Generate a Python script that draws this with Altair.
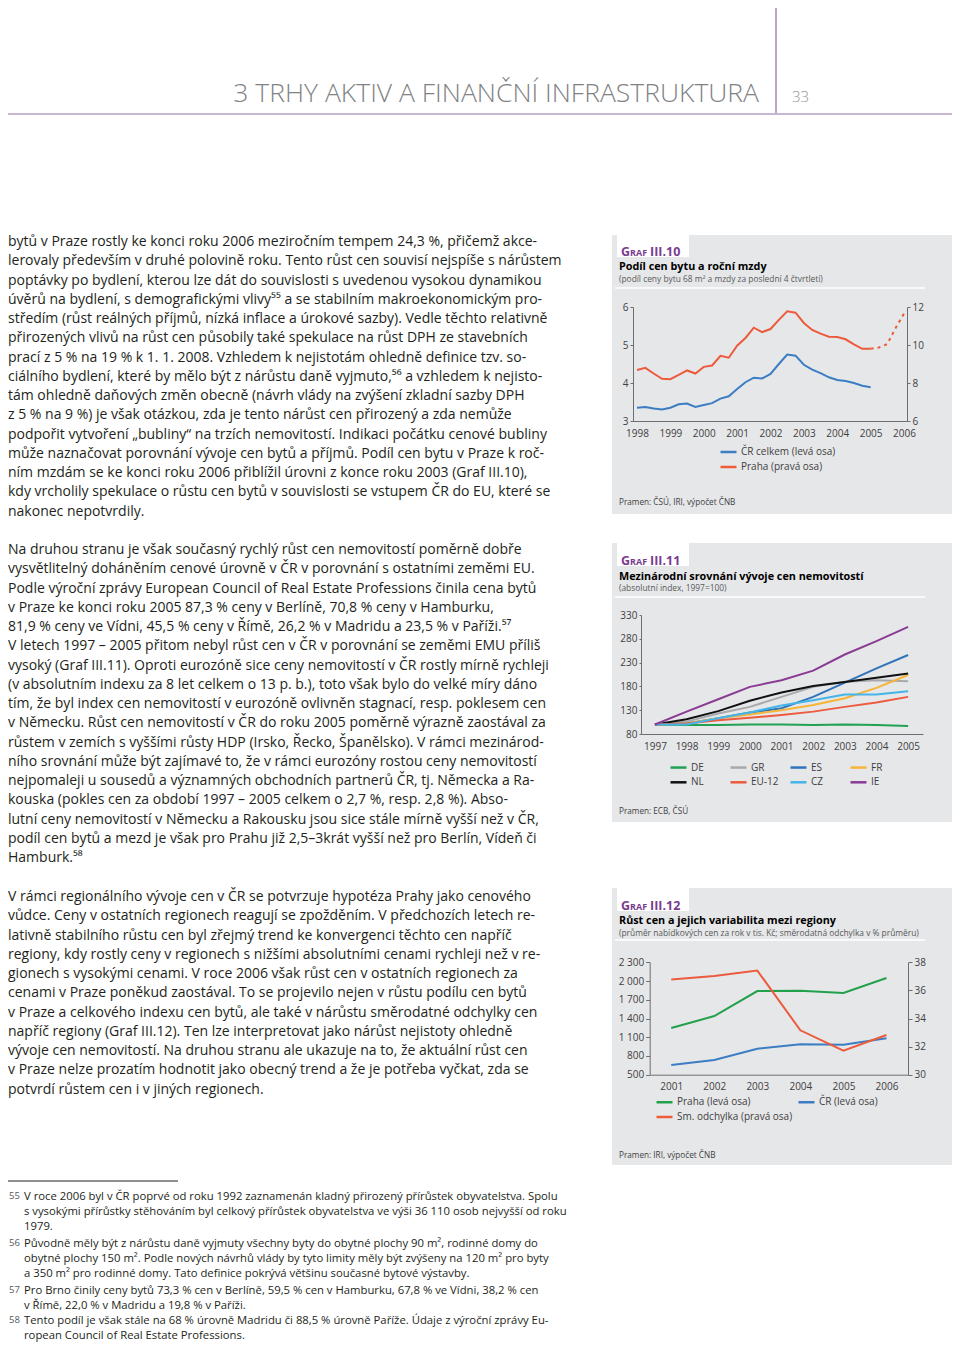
import altair as alt
import pandas as pd

# ======================= DATA =======================
# Graf III.10 - quarterly, 1998Q1 .. 2005Q1
quarters = [1998.0, 1998.25, 1998.5, 1998.75, 1999.0, 1999.25, 1999.5, 1999.75,
            2000.0, 2000.25, 2000.5, 2000.75, 2001.0, 2001.25, 2001.5, 2001.75,
            2002.0, 2002.25, 2002.5, 2002.75, 2003.0, 2003.25, 2003.5, 2003.75,
            2004.0, 2004.25, 2004.5, 2004.75, 2005.0]
cr_celkem = [3.35, 3.37, 3.33, 3.30, 3.35, 3.44, 3.46, 3.37, 3.42, 3.47, 3.59, 3.65,
             3.84, 4.02, 4.14, 4.12, 4.24, 4.50, 4.75, 4.72, 4.48, 4.35, 4.26, 4.15,
             4.08, 4.05, 4.00, 3.93, 3.89]
praha_podil = [8.68, 8.80, 8.50, 8.22, 8.20, 8.43, 8.66, 8.50, 8.85, 8.92, 9.43, 9.33,
               9.96, 10.37, 10.91, 10.68, 10.84, 11.32, 11.77, 11.70, 11.16, 10.79, 10.60, 10.44,
               10.42, 10.30, 10.03, 9.80, 9.80]
quarters_est = [2005.0, 2005.25, 2005.5, 2005.75, 2006.0]
praha_podil_est = [9.80, 9.87, 10.05, 10.90, 11.65]
years10 = [1998, 1999, 2000, 2001, 2002, 2003, 2004, 2005, 2006]
series10 = ["ČR celkem (levá osa)", "Praha (pravá osa)"]

# Graf III.11 - index 1997 = 100
years11 = [1997, 1998, 1999, 2000, 2001, 2002, 2003, 2004, 2005]
countries11 = ["DE", "GR", "ES", "FR", "NL", "EU-12", "CZ", "IE"]
idx_de = [100, 99, 99, 100, 100, 99, 100, 99, 97]
idx_gr = [100, 106, 123, 137, 158, 179, 190, 193, 191]
idx_es = [100, 102, 113, 125, 134, 158, 188, 218, 246]
idx_fr = [100, 102, 113, 121, 130, 141, 155, 177, 204]
idx_nl = [100, 111, 128, 150, 167, 181, 189, 198, 207]
idx_eu = [100, 102, 109, 114, 120, 127, 137, 146, 158]
idx_cz = [100, 100, 113, 125, 140, 151, 163, 163, 170]
idx_ie = [100, 127, 153, 179, 193, 213, 247, 275, 305]
# legend is filled column by column, so this order gives rows DE GR ES FR / NL EU-12 CZ IE
legend_order11 = ["DE", "NL", "GR", "EU-12", "ES", "CZ", "FR", "IE"]

# Graf III.12
years12 = [2001, 2002, 2003, 2004, 2005, 2006]
praha_cena = [1247, 1439, 1840, 1845, 1808, 2048]
cr_cena = [655, 735, 916, 986, 980, 1082]
sm_odchylka = [36.77, 37.03, 37.41, 33.16, 31.71, 32.83]
series12 = ["Praha (levá osa)", "ČR (levá osa)", "Sm. odchylka (pravá osa)"]
legend_order12 = ["Praha (levá osa)", "Sm. odchylka (pravá osa)", "ČR (levá osa)"]

# ======================= TEXT =======================
header_title = "3 TRHY AKTIV A FINANČNÍ INFRASTRUKTURA"
page_number = "33"

para1 = [
    "bytů v Praze rostly ke konci roku 2006 meziročním tempem 24,3 %, přičemž akce-",
    "lerovaly především v druhé polovině roku. Tento růst cen souvisí nejspíše s nárůstem",
    "poptávky po bydlení, kterou lze dát do souvislosti s uvedenou vysokou dynamikou",
    "úvěrů na bydlení, s demografickými vlivy⁵⁵ a se stabilním makroekonomickým pro-",
    "středím (růst reálných příjmů, nízká inflace a úrokové sazby). Vedle těchto relativně",
    "přirozených vlivů na růst cen působily také spekulace na růst DPH ze stavebních",
    "prací z 5 % na 19 % k 1. 1. 2008. Vzhledem k nejistotám ohledně definice tzv. so-",
    "ciálního bydlení, které by mělo být z nárůstu daně vyjmuto,⁵⁶ a vzhledem k nejisto-",
    "tám ohledně daňových změn obecně (návrh vlády na zvýšení zkladní sazby DPH",
    "z 5 % na 9 %) je však otázkou, zda je tento nárůst cen přirozený a zda nemůže",
    "podpořit vytvoření „bubliny“ na trzích nemovitostí. Indikaci počátku cenové bubliny",
    "může naznačovat porovnání vývoje cen bytů a příjmů. Podíl cen bytu v Praze k roč-",
    "ním mzdám se ke konci roku 2006 přiblížil úrovni z konce roku 2003 (Graf III.10),",
    "kdy vrcholily spekulace o růstu cen bytů v souvislosti se vstupem ČR do EU, které se",
    "nakonec nepotvrdily.",
]
para2 = [
    "Na druhou stranu je však současný rychlý růst cen nemovitostí poměrně dobře",
    "vysvětlitelný doháněním cenové úrovně v ČR v porovnání s ostatními zeměmi EU.",
    "Podle výroční zprávy European Council of Real Estate Professions činila cena bytů",
    "v Praze ke konci roku 2005 87,3 % ceny v Berlíně, 70,8 % ceny v Hamburku,",
    "81,9 % ceny ve Vídni, 45,5 % ceny v Římě, 26,2 % v Madridu a 23,5 % v Paříži.⁵⁷",
    "V letech 1997 – 2005 přitom nebyl růst cen v ČR v porovnání se zeměmi EMU příliš",
    "vysoký (Graf III.11). Oproti eurozóně sice ceny nemovitostí v ČR rostly mírně rychleji",
    "(v absolutním indexu za 8 let celkem o 13 p. b.), toto však bylo do velké míry dáno",
    "tím, že byl index cen nemovitostí v eurozóně ovlivněn stagnací, resp. poklesem cen",
    "v Německu. Růst cen nemovitostí v ČR do roku 2005 poměrně výrazně zaostával za",
    "růstem v zemích s vyššími růsty HDP (Irsko, Řecko, Španělsko). V rámci mezinárod-",
    "ního srovnání může být zajímavé to, že v rámci eurozóny rostou ceny nemovitostí",
    "nejpomaleji u sousedů a významných obchodních partnerů ČR, tj. Německa a Ra-",
    "kouska (pokles cen za období 1997 – 2005 celkem o 2,7 %, resp. 2,8 %). Abso-",
    "lutní ceny nemovitostí v Německu a Rakousku jsou sice stále mírně vyšší než v ČR,",
    "podíl cen bytů a mezd je však pro Prahu již 2,5–3krát vyšší než pro Berlín, Vídeň či",
    "Hamburk.⁵⁸",
]
para3 = [
    "V rámci regionálního vývoje cen v ČR se potvrzuje hypotéza Prahy jako cenového",
    "vůdce. Ceny v ostatních regionech reagují se zpožděním. V předchozích letech re-",
    "lativně stabilního růstu cen byl zřejmý trend ke konvergenci těchto cen napříč",
    "regiony, kdy rostly ceny v regionech s nižšími absolutními cenami rychleji než v re-",
    "gionech s vysokými cenami. V roce 2006 však růst cen v ostatních regionech za",
    "cenami v Praze poněkud zaostával. To se projevilo nejen v růstu podílu cen bytů",
    "v Praze a celkového indexu cen bytů, ale také v nárůstu směrodatné odchylky cen",
    "napříč regiony (Graf III.12). Ten lze interpretovat jako nárůst nejistoty ohledně",
    "vývoje cen nemovitostí. Na druhou stranu ale ukazuje na to, že aktuální růst cen",
    "v Praze nelze prozatím hodnotit jako obecný trend a že je potřeba vyčkat, zda se",
    "potvrdí růstem cen i v jiných regionech.",
]
footnotes = [
    ("55", ["V roce 2006 byl v ČR poprvé od roku 1992 zaznamenán kladný přirozený přírůstek obyvatelstva. Spolu",
            "s vysokými přírůstky stěhováním byl celkový přírůstek obyvatelstva ve výši 36 110 osob nejvyšší od roku",
            "1979."]),
    ("56", ["Původně měly být z nárůstu daně vyjmuty všechny byty do obytné plochy 90 m², rodinné domy do",
            "obytné plochy 150 m². Podle nových návrhů vlády by tyto limity měly být zvýšeny na 120 m² pro byty",
            "a 350 m² pro rodinné domy. Tato definice pokrývá většinu současné bytové výstavby."]),
    ("57", ["Pro Brno činily ceny bytů 73,3 % cen v Berlíně, 59,5 % cen v Hamburku, 67,8 % ve Vídni, 38,2 % cen",
            "v Římě, 22,0 % v Madridu a 19,8 % v Paříži."]),
    ("58", ["Tento podíl je však stále na 68 % úrovně Madridu či 88,5 % úrovně Paříže. Údaje z výroční zprávy Eu-",
            "ropean Council of Real Estate Professions."]),
]
panel_texts = [
    ("III.10", "Podíl cen bytu a roční mzdy",
     "(podíl ceny bytu 68 m² a mzdy za poslední 4 čtvrtletí)", "Pramen: ČSÚ, IRI, výpočet ČNB"),
    ("III.11", "Mezinárodní srovnání vývoje cen nemovitostí",
     "(absolutní index, 1997=100)", "Pramen: ECB, ČSÚ"),
    ("III.12", "Růst cen a jejich variabilita mezi regiony",
     "(průměr nabídkových cen za rok v tis. Kč; směrodatná odchylka v % průměru)", "Pramen: IRI, výpočet ČNB"),
]

# ======================= STYLE / LAYOUT =======================
W, H = 944, 1335
OFF = 8
FONT = "Open Sans"
TEXT_C = "#231f20"
GREY_BG = "#e6e7e8"
PURPLE = "#7b3b8f"
LINE_PURPLE = "#8d6ea5"
BLUE = "#3c7dc4"
RED = "#ec5b3c"
GREEN = "#22a04b"
color_of11 = {"DE": "#21a153", "GR": "#a7a9ac", "ES": "#2f74b9", "FR": "#f7b538",
              "NL": "#111111", "EU-12": "#ee5a3d", "CZ": "#45b5e8", "IE": "#8a3b94"}
color_of12 = {"Praha (levá osa)": GREEN, "ČR (levá osa)": BLUE, "Sm. odchylka (pravá osa)": RED}
ONE = alt.Data(values=[{"k": 1}])


def P(v):
    return v - OFF


def rect(x1, y1, x2, y2, color):
    return alt.Chart(ONE).mark_rect(color=color).encode(
        x=alt.value(P(x1)), x2=alt.value(P(x2)), y=alt.value(P(y1)), y2=alt.value(P(y2)))


def rule(x1, y1, x2, y2, color, width=1.0):
    return alt.Chart(ONE).mark_rule(color=color, strokeWidth=width).encode(
        x=alt.value(P(x1)), x2=alt.value(P(x2)), y=alt.value(P(y1)), y2=alt.value(P(y2)))


def label(x, y, s, size, color=TEXT_C, weight="normal", align="left", baseline="middle", line_height=None):
    kw = dict(text=s, font=FONT, fontSize=size, color=color, fontWeight=weight,
              align=align, baseline=baseline)
    if line_height is not None:
        kw["lineHeight"] = line_height
    return alt.Chart(ONE).mark_text(**kw).encode(x=alt.value(P(x)), y=alt.value(P(y)))


AX = dict(domainColor="#6d6e71", tickColor="#6d6e71", labelColor="#414042", labelFont=FONT,
          labelFontSize=10, grid=False, labelOverlap=False, labelFlush=False, zindex=1)


def xaxis(y_page, values, pad=7):
    return alt.Axis(orient="bottom", offset=-(H - P(y_page)), values=values, format="d",
                    ticks=False, labelPadding=pad, **AX)


def yaxis(orient, x_page, values, tick=3, pad=2, expr=None):
    off = -P(x_page) if orient == "left" else -(W - P(x_page))
    kw = dict(orient=orient, offset=off, values=values, tickSize=tick, labelPadding=pad, **AX)
    if expr is not None:
        kw["labelExpr"] = expr
    else:
        kw["format"] = "d"
    return alt.Axis(**kw)


def legend(x, y, columns=1, row_pad=-6, col_pad=10, grid="each"):
    return alt.Legend(orient="none", legendX=P(x), legendY=P(y), title=None, columns=columns,
                      symbolType="stroke", symbolSize=256, symbolStrokeWidth=2.5,
                      labelFont=FONT, labelFontSize=10, labelColor="#414042", labelOffset=3,
                      rowPadding=row_pad, columnPadding=col_pad, gridAlign=grid, padding=0)


layers = []

# ---------------- header ----------------
layers.append(rule(776, 0, 776, 113, LINE_PURPLE, 1.2))
layers.append(rule(8, 114, 960, 114, LINE_PURPLE, 1.2))
layers.append(label(759, 101.5, header_title, 26.5, color="#808285", weight=300, align="right",
                    baseline="alphabetic"))
layers.append(label(792, 101.5, page_number, 15, color="#939598", weight=300, baseline="alphabetic"))

# ---------------- body text ----------------
LH = 19.25
layers.append(label(8, 246, para1, 14, baseline="alphabetic", line_height=LH))
layers.append(label(8, 554, para2, 14, baseline="alphabetic", line_height=LH))
layers.append(label(8, 901, para3, 14, baseline="alphabetic", line_height=LH))

# ---------------- footnotes ----------------
layers.append(rule(8, 1181, 178, 1181, "#231f20", 1))
fn_y = [1196, 1243, 1290, 1320]
for (num, lines), yy in zip(footnotes, fn_y):
    layers.append(label(9, yy + 3, num, 9.5, color="#58595b", baseline="alphabetic"))
    layers.append(label(24, yy + 3.5, lines, 11.3, baseline="alphabetic", line_height=15.2))

# ---------------- panels ----------------
panel_boxes = [(235, 514, 251, 266, 279, 288, 502),
               (543, 822, 560, 576, 588, 597, 811),
               (888, 1165, 905, 920, 933, 940, 1155)]
for (code, title, sub, src), (top, bot, gy, ty, sy, sep, srcy) in zip(panel_texts, panel_boxes):
    layers.append(rect(612, top, 960, bot, GREY_BG))
    layers.append(rect(617, top, 689, gy + 6, "#ffffff"))
    layers.append(label(621, gy + 4.5, "G", 12.5, color=PURPLE, weight="bold", baseline="alphabetic"))
    layers.append(label(630, gy + 4.5, "RAF", 9, color=PURPLE, weight="bold", baseline="alphabetic"))
    layers.append(label(650, gy + 4.5, code, 12.5, color=PURPLE, weight="bold", baseline="alphabetic"))
    layers.append(label(619, ty + 4, title, 10.8, color="#000000", weight="bold", baseline="alphabetic"))
    layers.append(label(619, sy + 3, sub, 8.4, color="#58595b", baseline="alphabetic"))
    layers.append(rule(615, sep, 925, sep, "#ffffff", 1.5))
    layers.append(label(619, srcy + 3, src, 8.2, color="#414042", baseline="alphabetic"))

# ---------------- Graf III.10 ----------------
df10a = pd.DataFrame({"t": quarters, "v": cr_celkem, "s": series10[0]})
df10b = pd.DataFrame({"t": quarters, "v": praha_podil})
df10c = pd.DataFrame({"t": quarters_est, "v": praha_podil_est})
X10 = alt.Scale(domain=[1997.88, 2006.09], range=[P(633), P(907)], nice=False, zero=False)
YL10 = alt.Scale(domain=[3, 6], range=[P(421), P(307)], nice=False, zero=False)
YR10 = alt.Scale(domain=[6, 12], range=[P(421), P(307)], nice=False, zero=False)

layers.append(alt.Chart(df10a).mark_line(strokeWidth=2).encode(
    x=alt.X("t:Q", scale=X10, axis=xaxis(421, years10), title=None),
    y=alt.Y("v:Q", scale=YL10, axis=yaxis("left", 633, [3, 4, 5, 6]), title=None),
    color=alt.Color("s:N", scale=alt.Scale(domain=series10, range=[BLUE, RED]),
                    legend=legend(719, 442.5, row_pad=-5.2))))
layers.append(alt.Chart(df10b).mark_line(strokeWidth=2, color=RED).encode(
    x=alt.X("t:Q", scale=X10, axis=None),
    y=alt.Y("v:Q", scale=YR10, axis=yaxis("right", 907, [6, 8, 10, 12]), title=None)))
layers.append(alt.Chart(df10c).mark_line(strokeWidth=2, color=RED, strokeDash=[3, 4]).encode(
    x=alt.X("t:Q", scale=X10, axis=None),
    y=alt.Y("v:Q", scale=YR10, axis=None)))

# ---------------- Graf III.11 ----------------
series_vals = [idx_de, idx_gr, idx_es, idx_fr, idx_nl, idx_eu, idx_cz, idx_ie]
rows = []
for c, vals in zip(countries11, series_vals):
    for yr, v in zip(years11, vals):
        rows.append({"c": c, "t": yr, "v": v})
df11 = pd.DataFrame(rows)
X11 = alt.Scale(domain=[1996.56, 2005.47], range=[P(641), P(923)], nice=False, zero=False)
Y11 = alt.Scale(domain=[80, 330], range=[P(734), P(615)], nice=False, zero=False)
layers.append(alt.Chart(df11).mark_line(strokeWidth=2).encode(
    x=alt.X("t:Q", scale=X11, axis=xaxis(734, years11), title=None),
    y=alt.Y("v:Q", scale=Y11, axis=yaxis("left", 641, [80, 130, 180, 230, 280, 330], tick=2),
            title=None),
    color=alt.Color("c:N", scale=alt.Scale(domain=legend_order11,
                                           range=[color_of11[c] for c in legend_order11]),
                    legend=legend(669, 757.8, columns=4, row_pad=-6.5, col_pad=6, grid="all"))))

# ---------------- Graf III.12 ----------------
df12a = pd.DataFrame({"t": years12 + years12,
                      "v": praha_cena + cr_cena,
                      "s": [series12[0]] * len(years12) + [series12[1]] * len(years12)})
df12b = pd.DataFrame({"t": years12, "v": sm_odchylka})
X12 = alt.Scale(domain=[2000.5, 2006.5], range=[P(649.7), P(908)], nice=False, zero=False)
YL12 = alt.Scale(domain=[500, 2300], range=[P(1074.7), P(962.3)], nice=False, zero=False)
YR12 = alt.Scale(domain=[30, 38], range=[P(1074.7), P(962.3)], nice=False, zero=False)
layers.append(alt.Chart(df12a).mark_line(strokeWidth=2).encode(
    x=alt.X("t:Q", scale=X12, axis=xaxis(1074.7, years12), title=None),
    y=alt.Y("v:Q", scale=YL12,
            axis=yaxis("left", 649.7, [500, 800, 1100, 1400, 1700, 2000, 2300], tick=4,
                       expr="replace(format(datum.value, ',d'), ',', ' ')"),
            title=None),
    color=alt.Color("s:N", scale=alt.Scale(domain=legend_order12,
                                           range=[color_of12[s] for s in legend_order12]),
                    legend=legend(655, 1092.5, columns=2, row_pad=-6.2, col_pad=0))))
layers.append(alt.Chart(df12b).mark_line(strokeWidth=2, color=RED).encode(
    x=alt.X("t:Q", scale=X12, axis=None),
    y=alt.Y("v:Q", scale=YR12, axis=yaxis("right", 908, [30, 32, 34, 36, 38], tick=4), title=None)))

chart = alt.layer(*layers).resolve_scale(
    x="independent", y="independent", color="independent"
).properties(
    width=W, height=H, padding=0, autosize=alt.AutoSizeParams(type="none")
).configure_view(stroke=None)

chart.save("out.html", embed_options={"renderer": "svg", "actions": False})
